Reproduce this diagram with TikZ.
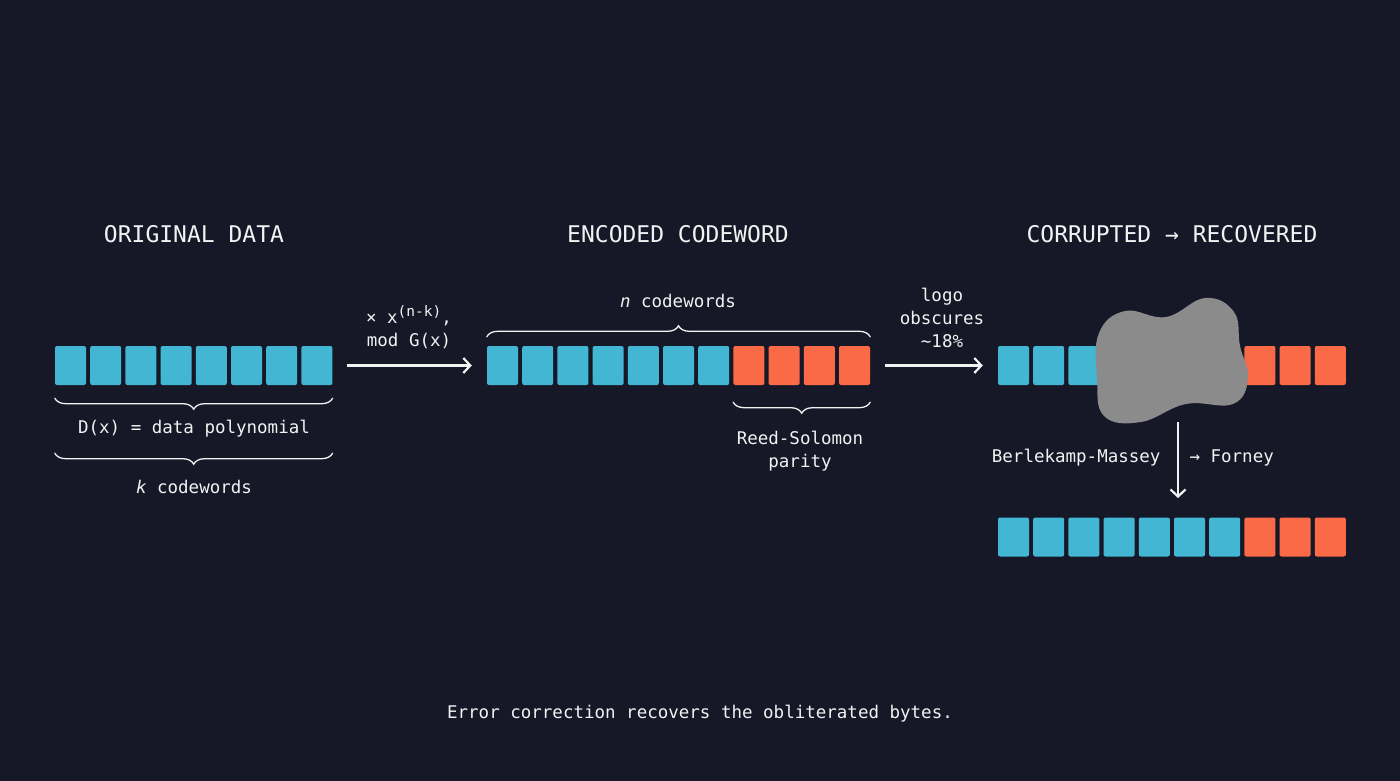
\documentclass[tikz,border=0pt]{standalone}
\usepackage{fontspec}
\setmonofont{DejaVu Sans Mono}
\usepackage{tikz}
\usetikzlibrary{decorations.pathreplacing,arrows.meta}
\definecolor{bg}{HTML}{161828}
\definecolor{cblue}{HTML}{42B6D2}
\definecolor{corange}{HTML}{FB6A47}
\definecolor{blobgray}{HTML}{8B8B8B}
\definecolor{ink}{HTML}{F2F2F2}

\begin{document}
\begin{tikzpicture}[x=1pt,y=-1pt,
   >={Straight Barb[length=7pt,width=15pt]},
   cell/.style={minimum width=31pt,minimum height=39pt,inner sep=0pt,rounded corners=2pt},
   cellb/.style={cell,fill=cblue},
   cello/.style={cell,fill=corange},
   ttl/.style={text=ink,font=\ttfamily\fontsize{23}{28}\selectfont},
   lbl/.style={text=ink,font=\ttfamily\fontsize{17.5}{23}\selectfont,align=center},
   brc/.style={draw=ink,line width=1.3pt,line cap=round,decorate,decoration={brace,amplitude=11pt}},
   arr/.style={draw=ink,line width=2.2pt,->}]

   \fill[bg] (0,0) rectangle (1400,781);

   % titles
   \node[ttl] (t1) at (194,234) {ORIGINAL DATA};
   \node[ttl] (t2) at (678,234) {ENCODED CODEWORD};
   \node[ttl] (t3) at (1172,234) {CORRUPTED → RECOVERED};

   % original data
   \foreach \i in {1,...,8}
      \node[cellb] (od\i) at ({70.5+(\i-1)*35.2},365.5) {};
   \draw[brc] ([yshift=-13pt]od8.south east) -- ([yshift=-13pt]od1.south west);
   \node[lbl] (dx) at (194,429) {D(x) = data polynomial};
   \draw[brc] ([yshift=-68pt]od8.south east) -- ([yshift=-68pt]od1.south west);
   \node[lbl] (kcw) at (194,487) {\textit{k} codewords};

   % encoded codeword
   \foreach \i in {1,...,7}
      \node[cellb] (ec\i) at ({502.5+(\i-1)*35.2},365.5) {};
   \foreach \i in {8,...,11}
      \node[cello] (ec\i) at ({502.5+(\i-1)*35.2},365.5) {};
   \draw[brc] ([yshift=9pt]ec1.north west) -- ([yshift=9pt]ec11.north east);
   \node[lbl] (ncw) at (678,301) {\textit{n} codewords};
   \draw[brc] ([yshift=-17pt]ec11.south east) -- ([yshift=-17pt]ec8.south west);
   \node[lbl] (rs) at (800,451.5) {Reed-Solomon\\parity};

   \draw[arr] ([xshift=14pt]od8.east) -- ([xshift=-15pt]ec1.west);
   \node[lbl] (mul) at (409,327) {× x\raisebox{7pt}{\fontsize{14.5}{14}\selectfont(n-k)},\\mod G(x)};

   % corrupted / recovered
   \foreach \i in {1,...,7} {
      \node[cellb] (cr\i) at ({1013.5+(\i-1)*35.2},365.5) {};
      \node[cellb] (rc\i) at ({1013.5+(\i-1)*35.2},537) {};
   }
   \foreach \i in {8,...,10} {
      \node[cello] (cr\i) at ({1013.5+(\i-1)*35.2},365.5) {};
      \node[cello] (rc\i) at ({1013.5+(\i-1)*35.2},537) {};
   }
   \fill[blobgray] plot[smooth cycle,tension=0.7] coordinates {
      (1099,333) (1125,311) (1166,317) (1205,298) (1234,312) (1240,346)
      (1248,378) (1233,404) (1186,404) (1141,422) (1104,416) (1097,378)};

   \draw[arr] ([xshift=15pt]ec11.east) -- ([xshift=-15pt]cr1.west);
   \node[lbl] (logo) at (942,318) {logo\\obscures\\\textasciitilde18\%};

   \coordinate (dtop) at (1178,422);
   \coordinate (dend) at (1178,498);
   \draw[arr] (dtop) -- (dend);
   \node[lbl,anchor=east] (bm) at (1164,458) {Berlekamp-Massey};
   \node[lbl,anchor=west] (fy) at (1186,458) {→ Forney};

   \node[lbl] (foot) at (700,714) {Error correction recovers the obliterated bytes.};

\end{tikzpicture}
\end{document}
